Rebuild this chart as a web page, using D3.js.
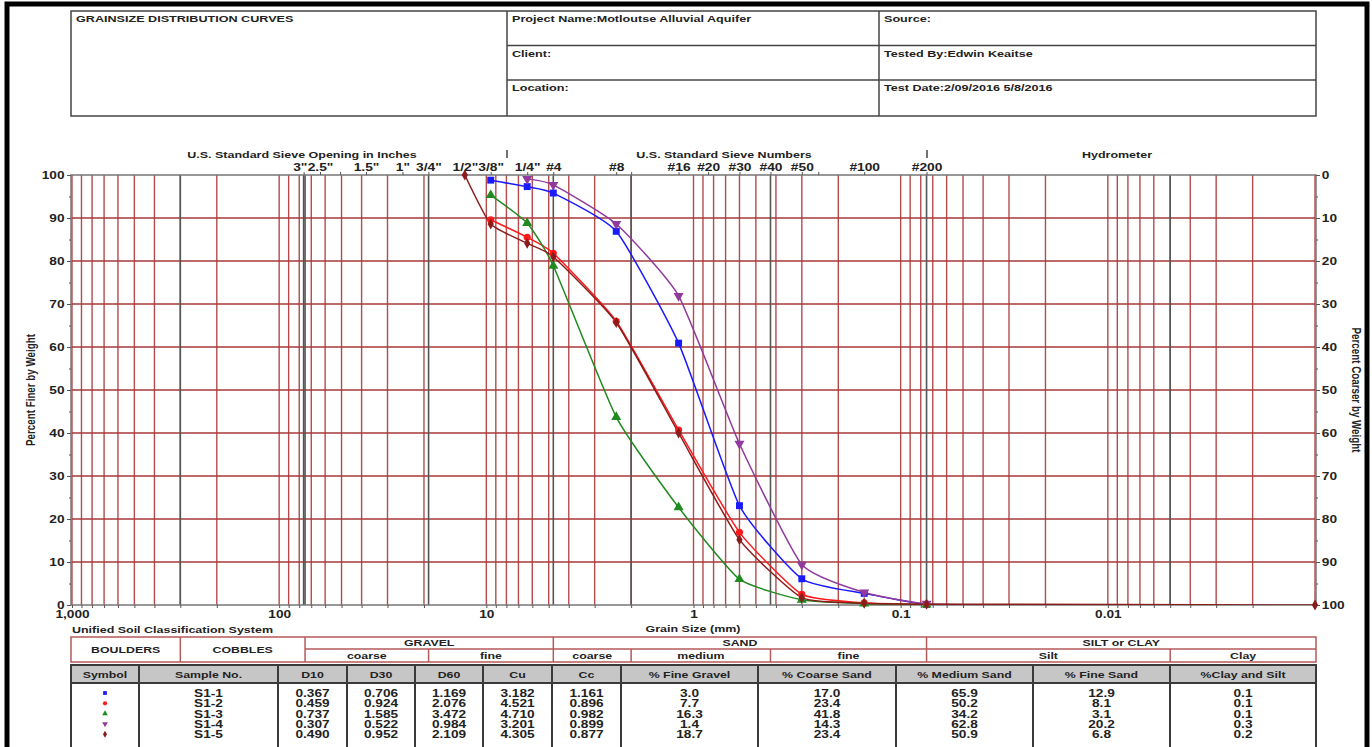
<!DOCTYPE html>
<html>
<head>
<meta charset="utf-8">
<script src="https://cdn.jsdelivr.net/npm/d3@7"></script>
<style>
  body { margin: 0; background: #fff; }
  svg { display: block; font-family: Arial, "Liberation Sans", sans-serif; font-weight: bold; }
</style>
</head>
<body>
<svg id="chart" width="1372" height="747"></svg>
<script>
// sieve openings (mm) used for the samples
var sizes = [12.7, 9.525, 6.35, 4.75, 2.36, 1.18, 0.6, 0.3, 0.15, 0.075];
var samples = ["S1-1", "S1-2", "S1-3", "S1-4", "S1-5"];
// percent passing (null = not sieved)
var passS11 = [null, 98.8, 97.3, 95.8, 86.9, 60.9, 23.1, 6.1, 2.7, 0.1];
var passS12 = [null, 89.6, 85.5, 81.8, 66.0, 40.7, 16.9, 2.5, 0.5, 0.1];
var passS13 = [null, 95.3, 88.8, 78.9, 43.7, 22.7, 6.0, 1.2, 0.3, 0.1];
var passS14 = [null, null, 99.1, 97.7, 88.6, 71.9, 37.5, 9.4, 2.9, 0.3];
var passS15 = [100, 88.6, 84.1, 81.0, 65.7, 40.0, 15.2, 1.7, 0.4, 0.2];
// where each curve runs out to zero past #200
var tailSize = [0.055, null, 0.04, 0.022, 0.001];
var tailMarker = [false, false, false, false, true];

// results table
var d10 = ["0.367", "0.459", "0.737", "0.307", "0.490"];
var d30 = ["0.706", "0.924", "1.585", "0.522", "0.952"];
var d60 = ["1.169", "2.076", "3.472", "0.984", "2.109"];
var cu = ["3.182", "4.521", "4.710", "3.201", "4.305"];
var cc = ["1.161", "0.896", "0.982", "0.899", "0.877"];
var fineGravel = ["3.0", "7.7", "16.3", "1.4", "18.7"];
var coarseSand = ["17.0", "23.4", "41.8", "14.3", "23.4"];
var mediumSand = ["65.9", "50.2", "34.2", "62.8", "50.9"];
var fineSand = ["12.9", "8.1", "3.1", "20.2", "6.8"];
var claySilt = ["0.1", "0.1", "0.1", "0.3", "0.2"];
var tableHeads = ["Symbol", "Sample No.", "D10", "D30", "D60", "Cu", "Cc", "% Fine Gravel", "% Coarse Sand", "% Medium Sand", "% Fine Sand", "%Clay and Silt"];

// top axis sieves
var sieveMm = [76.2, 63.5, 50.8, 38.1, 25.4, 19.05, 12.7, 9.525, 6.35, 4.75, 2.36, 2.0, 1.18, 0.85, 0.6, 0.425, 0.3, 0.25, 0.15, 0.075];
var sieveLabels = ['3"', '2.5"', '', '1.5"', '1"', '3/4"', '1/2"', '3/8"', '1/4"', '#4', '#8', '', '#16', '#20', '#30', '#40', '#50', '', '#100', '#200'];
var decades = [1000, 100, 10, 1, 0.1, 0.01];
var decadeLabels = ["1,000", "100", "10", "1", "0.1", "0.01"];
// USCS boundaries (mm)
var classBounds = [300, 76.2, 75, 19, 4.75, 2, 0.425, 0.075, 0.005];

var colors = ["#1a1aff", "#ff1a1a", "#1f8a1f", "#8f3a9c", "#8b1c1c"];
var symbols = [d3.symbolSquare, d3.symbolCircle, d3.symbolTriangle, d3.symbolTriangle, d3.symbolDiamond];
var symSize = [48, 40, 44, 44, 34];
var symRot = [0, 0, 0, 180, 0];

var svg = d3.select("#chart");
var SX = 1.3; // the picture is stretched sideways, so text is too

function stext(g, x, y, s, anchor, size) {
  return g.append("text")
    .attr("transform", "translate(" + x + "," + y + ") scale(" + SX + ",1)")
    .attr("text-anchor", anchor || "middle")
    .attr("font-size", size || 9.5)
    .attr("fill", "#222")
    .text(s);
}

var x = d3.scaleLog().domain([1000, 0.001]).range([72, 1315]),
    y = d3.scaleLinear().domain([0, 100]).range([605, 175]),
    yr = d3.scaleLinear().domain([100, 0]).range([605, 175]);

// outer frame
svg.append("path").attr("d", "M7,747V4H1367V747").attr("fill", "none").attr("stroke", "#000").attr("stroke-width", 5);

// header box
var head = svg.append("g").attr("stroke", "#444").attr("stroke-width", 1.5).attr("fill", "none");
head.append("rect").attr("x", 71).attr("y", 11).attr("width", 1245).attr("height", 105);
head.append("line").attr("x1", 507).attr("x2", 507).attr("y1", 11).attr("y2", 116);
head.append("line").attr("x1", 879).attr("x2", 879).attr("y1", 11).attr("y2", 116);
head.append("line").attr("x1", 507).attr("x2", 1316).attr("y1", 45.5).attr("y2", 45.5);
head.append("line").attr("x1", 507).attr("x2", 1316).attr("y1", 80).attr("y2", 80);
stext(svg, 76, 22, "GRAINSIZE DISTRIBUTION CURVES", "start", 9.7);
stext(svg, 512, 22, "Project Name:Motloutse Alluvial Aquifer", "start", 9.7);
stext(svg, 512, 57, "Client:", "start", 9.7);
stext(svg, 512, 91, "Location:", "start", 9.7);
stext(svg, 884, 22, "Source:", "start", 9.7);
stext(svg, 884, 57, "Tested By:Edwin Keaitse", "start", 9.7);
stext(svg, 884, 91, "Test Date:2/09/2016 5/8/2016", "start", 9.7);

// grid
var gridVals = [];
for (var k = -3; k <= 2; k++) for (var n = 1; n <= 9; n++) gridVals.push(+(n * Math.pow(10, k)).toPrecision(3));
gridVals.push(1000);

var grid = svg.append("g");
grid.selectAll("line.v").data(gridVals).enter().append("line")
  .attr("x1", function(d) { return x(d); }).attr("x2", function(d) { return x(d); })
  .attr("y1", y(100)).attr("y2", y(0))
  .attr("stroke", "#b44c4c").attr("stroke-width", 1.4);
grid.selectAll("line.h").data(d3.range(10, 100, 10)).enter().append("line")
  .attr("x1", x(1000)).attr("x2", x(0.001))
  .attr("y1", function(d) { return y(d); }).attr("y2", function(d) { return y(d); })
  .attr("stroke", "#a83838").attr("stroke-width", 1.5);
grid.selectAll("line.b").data(classBounds).enter().append("line")
  .attr("x1", function(d) { return x(d); }).attr("x2", function(d) { return x(d); })
  .attr("y1", y(100)).attr("y2", y(0))
  .attr("stroke", "#555").attr("stroke-width", 1.6);

svg.append("rect").attr("x", 71).attr("y", 175).attr("width", 1245).attr("height", 430)
  .attr("fill", "none").attr("stroke", "#777").attr("stroke-width", 1.5);

// axes
function styleAxis(g, dx, fs) {
  g.select(".domain").remove();
  g.selectAll("line").attr("stroke", "#555");
  g.selectAll("text").attr("font-size", fs || 10.5).attr("fill", "#222")
    .attr("transform", "scale(" + SX + ",1)");
  if (dx != null) g.selectAll("text").attr("x", dx);
}

var axLeft = svg.append("g").attr("transform", "translate(71,0)")
  .call(d3.axisLeft(y).tickValues(d3.range(0, 101, 10)).tickSize(4));
styleAxis(axLeft, -5);
svg.append("g").attr("transform", "translate(71,0)")
  .call(d3.axisLeft(y).tickValues(d3.range(5, 100, 10)).tickSize(2).tickFormat(""))
  .call(function(g) { g.select(".domain").remove(); g.selectAll("line").attr("stroke", "#555"); });

var axRight = svg.append("g").attr("transform", "translate(1316,0)")
  .call(d3.axisRight(yr).tickValues(d3.range(0, 101, 10)).tickSize(4));
styleAxis(axRight, 4.5);
svg.append("g").attr("transform", "translate(1316,0)")
  .call(d3.axisRight(yr).tickValues(d3.range(5, 100, 10)).tickSize(2).tickFormat(""))
  .call(function(g) { g.select(".domain").remove(); g.selectAll("line").attr("stroke", "#555"); });

var axBottom = svg.append("g").attr("transform", "translate(0,605)")
  .call(d3.axisBottom(x).tickValues(gridVals).tickSize(3).tickPadding(3)
    .tickFormat(function(d) { var i = decades.indexOf(d); return i < 0 ? "" : decadeLabels[i]; }));
styleAxis(axBottom, null);

var axTop = svg.append("g").attr("transform", "translate(0,175)")
  .call(d3.axisTop(x).tickValues(sieveMm).tickSize(3).tickPadding(1)
    .tickFormat(function(d, i) { return sieveLabels[i]; }));
styleAxis(axTop, null, 10.6);
// the 3" label sits just left of 2.5" as in the source sheet
axTop.selectAll("text").filter(function(d) { return d === 76.2; }).attr("x", -3);

// axis titles
stext(svg, 302, 158, "U.S. Standard Sieve Opening in Inches", "middle", 9.6);
stext(svg, 724, 158, "U.S. Standard Sieve Numbers", "middle", 9.6);
stext(svg, 1117, 158, "Hydrometer", "middle", 9.6);
[507, 927].forEach(function(px) {
  svg.append("line").attr("x1", px).attr("x2", px).attr("y1", 150).attr("y2", 158).attr("stroke", "#444").attr("stroke-width", 1.5);
});
stext(svg, 693, 632, "Grain Size (mm)", "middle", 9.6);
stext(svg, 72, 633, "Unified Soil Classification System", "start", 9.6);

svg.append("text").attr("transform", "translate(35,390) rotate(-90) scale(1,1.3)")
  .attr("text-anchor", "middle").attr("font-size", 9.8).attr("fill", "#222").text("Percent Finer by Weight");
svg.append("text").attr("transform", "translate(1352,390) rotate(90) scale(1,1.3)")
  .attr("text-anchor", "middle").attr("font-size", 9.8).attr("fill", "#222").text("Percent Coarser by Weight");

// curves
svg.append("clipPath").attr("id", "plotclip").append("rect")
  .attr("x", 71).attr("y", 170).attr("width", 1250).attr("height", 435);

var series = [passS11, passS12, passS13, passS14, passS15].map(function(vals, i) {
  var pts = [];
  vals.forEach(function(v, j) { if (v != null) pts.push({ s: sizes[j], v: v, mark: true }); });
  if (tailSize[i] != null) pts.push({ s: tailSize[i], v: 0, mark: tailMarker[i] });
  return { name: samples[i], pts: pts, i: i };
});

var line = d3.line()
  .x(function(d) { return x(d.s); })
  .y(function(d) { return y(d.v); })
  .curve(d3.curveCardinal.tension(0.5));

var curves = svg.append("g").attr("clip-path", "url(#plotclip)");
curves.selectAll("path.curve").data(series).enter().append("path")
  .attr("d", function(d) { return line(d.pts); })
  .attr("fill", "none")
  .attr("stroke", function(d) { return colors[d.i]; })
  .attr("stroke-width", 1.5);

function marker(i, sz) {
  return d3.symbol().type(symbols[i]).size(sz || symSize[i])();
}

svg.append("g").selectAll("g.marks").data(series).enter().append("g")
  .each(function(sr) {
    d3.select(this).selectAll("path")
      .data(sr.pts.filter(function(p) { return p.mark; }))
      .enter().append("path")
      .attr("d", marker(sr.i))
      .attr("transform", function(p) { return "translate(" + x(p.s) + "," + y(p.v) + ") rotate(" + symRot[sr.i] + ")"; })
      .attr("fill", colors[sr.i]);
  });

// classification strip
var cls = svg.append("g");
var cTop = 637, cMid = 649, cBot = 662;
cls.append("rect").attr("x", 71).attr("y", cTop).attr("width", 1245).attr("height", cBot - cTop)
  .attr("fill", "none").attr("stroke", "#b55a5a").attr("stroke-width", 1.5);
cls.append("line").attr("x1", x(75)).attr("x2", 1316).attr("y1", cMid).attr("y2", cMid)
  .attr("stroke", "#b55a5a").attr("stroke-width", 1.5);
[300, 75, 4.75, 0.075].forEach(function(b) {
  cls.append("line").attr("x1", x(b)).attr("x2", x(b)).attr("y1", cTop).attr("y2", cBot).attr("stroke", "#b55a5a").attr("stroke-width", 1.5);
});
[19, 2, 0.425, 0.005].forEach(function(b) {
  cls.append("line").attr("x1", x(b)).attr("x2", x(b)).attr("y1", cMid).attr("y2", cBot).attr("stroke", "#b55a5a").attr("stroke-width", 1.5);
});
function mid(a, b) { return (x(a) + x(b)) / 2; }
stext(cls, (71 + x(300)) / 2, 653, "BOULDERS");
stext(cls, mid(300, 75), 653, "COBBLES");
stext(cls, mid(75, 4.75), 646, "GRAVEL");
stext(cls, mid(75, 19), 659, "coarse");
stext(cls, mid(19, 4.75), 659, "fine");
stext(cls, mid(4.75, 0.075), 646, "SAND");
stext(cls, mid(4.75, 2), 659, "coarse");
stext(cls, mid(2, 0.425), 659, "medium");
stext(cls, mid(0.425, 0.075), 659, "fine");
stext(cls, (x(0.075) + 1316) / 2, 646, "SILT or CLAY");
stext(cls, mid(0.075, 0.005), 659, "Silt");
stext(cls, (x(0.005) + 1316) / 2, 659, "Clay");

// results table
var colX = [71, 139, 278, 347, 415, 483, 552, 621, 758, 896, 1033, 1170, 1316];
var tTop = 665, tHead = 683;
var tbl = svg.append("g");
tbl.append("rect").attr("x", 71).attr("y", tTop).attr("width", 1245).attr("height", tHead - tTop)
  .attr("fill", "#c6c6c6").attr("stroke", "#3a3a3a").attr("stroke-width", 2);
tbl.selectAll("line.col").data(colX).enter().append("line")
  .attr("x1", function(d) { return d; }).attr("x2", function(d) { return d; })
  .attr("y1", tTop).attr("y2", 747)
  .attr("stroke", "#3a3a3a").attr("stroke-width", 2);
tableHeads.forEach(function(h, c) {
  stext(tbl, (colX[c] + colX[c + 1]) / 2, 678, h, "middle", 9.5);
});
var cols = [null, samples, d10, d30, d60, cu, cc, fineGravel, coarseSand, mediumSand, fineSand, claySilt];
samples.forEach(function(s, r) {
  var ry = 693 + r * 10.3;
  tbl.append("path").attr("d", marker(r, 14))
    .attr("transform", "translate(" + (colX[0] + colX[1]) / 2 + "," + ry + ") rotate(" + symRot[r] + ")")
    .attr("fill", colors[r]);
  for (var c = 1; c < cols.length; c++) {
    stext(tbl, (colX[c] + colX[c + 1]) / 2, ry + 4, cols[c][r], "middle", 10.5);
  }
});
</script>
</body>
</html>
